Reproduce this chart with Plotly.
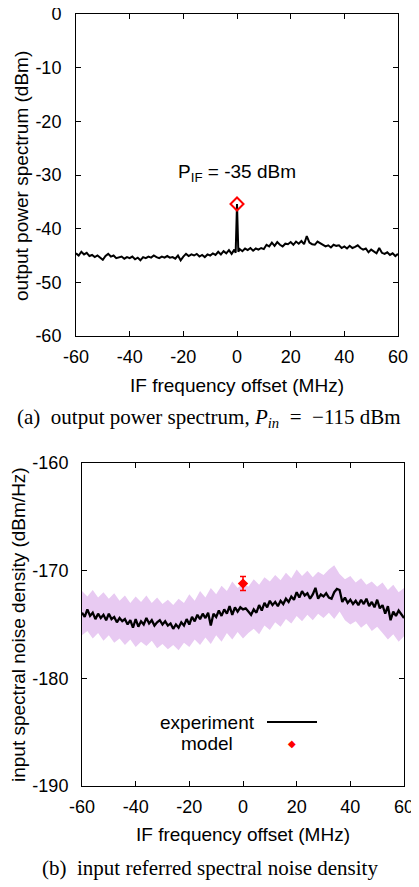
import plotly.graph_objects as go

# browser page has an 8px body margin; the figure is sized and positioned to compensate
PAGE_W, PAGE_H, OFF = 419, 887, 8
W, H = PAGE_W - OFF, PAGE_H - OFF

# ---------------- data: (a) output power spectrum ----------------
freq_a = [-60, -59, -58, -57, -56, -55, -54, -53, -52, -51, -50, -49, -48, -47, -46, -45,
          -44, -43, -42, -41, -40, -39, -38, -37, -36, -35, -34, -33, -32, -31, -30, -29,
          -28, -27, -26, -25, -24, -23, -22, -21, -20, -19, -18, -17, -16, -15, -14, -13,
          -12, -11, -10, -9, -8, -7, -6, -5, -4, -3, -2, -1, -0.5, 0, 0.5, 1, 2, 3, 4, 5,
          6, 7, 8, 9, 10, 11, 12, 13, 14, 15, 16, 17, 18, 19, 20, 21, 22, 23, 24, 25, 26,
          27, 28, 29, 30, 31, 32, 33, 34, 35, 36, 37, 38, 39, 40, 41, 42, 43, 44, 45, 46,
          47, 48, 49, 50, 51, 52, 53, 54, 55, 56, 57, 58, 59, 60]
power_a = [-44.6, -45.0, -44.3, -44.8, -44.5, -45.1, -44.9, -45.3, -45.0, -45.4, -45.8, -45.1,
           -44.7, -45.2, -45.0, -45.5, -45.3, -45.2, -45.6, -45.3, -45.5, -45.2, -45.7, -45.4,
           -45.9, -45.3, -45.5, -45.2, -45.4, -45.0, -45.3, -45.5, -45.2, -45.4, -45.1, -45.4,
           -45.3, -45.6, -45.0, -45.9, -45.2, -44.7, -45.1, -44.8, -45.0, -44.7, -45.2, -44.9,
           -45.3, -44.8, -45.0, -44.6, -44.9, -44.3, -44.8, -44.2, -44.6, -44.0, -44.7, -43.9,
           -44.5, -35.4, -44.3, -43.8, -44.2, -43.7, -44.0, -43.6, -44.1, -43.7, -43.9, -43.6,
           -43.8, -43.0, -43.3, -42.6, -43.2, -42.5, -43.0, -43.3, -42.8, -42.9, -42.5, -43.0,
           -42.4, -42.8, -42.3, -42.9, -41.4, -42.6, -42.9, -43.0, -42.4, -42.7, -42.9, -43.3,
           -43.1, -43.5, -43.0, -43.2, -43.1, -43.6, -43.3, -43.7, -43.2, -43.6, -43.4, -43.1,
           -43.6, -43.9, -43.7, -44.4, -43.9, -44.3, -44.6, -43.6, -44.5, -44.7, -44.4, -44.9,
           -44.6, -45.1, -44.7]
peak_freq = [0]
peak_power = [-35.4]

# ---------------- data: (b) input referred noise density ----------------
freq_b = list(range(-60, 61))
noise_b = [-173.9, -174.3, -173.6, -174.2, -173.9, -174.5, -174.0, -174.4, -174.1, -174.6,
           -174.0, -174.5, -174.3, -174.8, -174.4, -174.7, -174.5, -175.0, -174.6, -175.3,
           -174.5, -175.2, -174.7, -175.0, -174.4, -174.9, -174.6, -175.1, -174.8, -174.6,
           -175.0, -174.7, -175.1, -174.9, -175.4, -175.0, -175.3, -174.8, -175.1, -174.5,
           -175.0, -174.3, -174.7, -174.1, -174.5, -174.0, -174.4, -173.9, -175.1, -174.0,
           -174.3, -173.7, -174.2, -173.6, -174.0, -173.3, -174.1, -173.4, -173.8, -173.4,
           -173.6, -173.5, -173.8, -174.1, -173.6, -173.9, -173.2, -173.7, -173.0, -173.4,
           -172.8, -173.2, -172.9, -173.3, -172.8, -173.1, -172.6, -172.9, -172.4, -172.7,
           -172.0, -172.5, -171.9, -172.3, -172.1, -172.6, -172.2, -171.6, -172.6, -172.2,
           -172.4, -172.1, -172.5, -172.6, -172.0, -171.7, -171.8, -172.9, -172.5, -173.0,
           -172.7, -173.1, -172.8, -173.2, -172.7, -173.1, -172.6, -173.3, -172.9, -173.4,
           -172.7, -173.5, -173.2, -174.0, -173.3, -174.6, -173.8, -174.2, -173.7, -174.1,
           -174.4]
band_freq = list(range(-60, 61, 2))
band_upper = [-171.9, -172.4, -171.8, -172.5, -172.0, -172.6, -172.1, -172.8, -172.3, -173.0,
              -172.4, -172.9, -172.3, -173.0, -172.5, -173.1, -172.7, -173.2, -172.6, -173.0,
              -172.2, -172.8, -171.9, -172.5, -171.6, -172.2, -171.4, -171.9, -171.0, -171.6,
              -171.2, -171.5, -170.8, -171.3, -170.6, -171.0, -170.4, -170.9, -170.2, -170.7,
              -169.9, -170.5, -170.0, -170.6, -170.1, -170.4, -169.9, -169.5, -170.3, -170.8,
              -170.5, -171.1, -170.7, -171.3, -171.0, -171.5, -171.1, -171.8, -171.3, -172.0,
              -171.6]
band_lower = [-176.0, -175.6, -176.3, -175.8, -176.5, -176.0, -176.7, -176.3, -176.9, -176.4,
              -177.1, -176.6, -177.0, -176.5, -177.2, -176.8, -177.3, -176.9, -177.4, -176.7,
              -177.1, -176.4, -176.9, -176.2, -176.8, -176.0, -176.6, -175.8, -176.4, -175.7,
              -176.3, -175.8, -175.4, -175.9, -175.1, -175.5, -174.8, -175.2, -174.5, -174.9,
              -174.2, -174.7, -174.1, -174.6, -174.0, -174.4, -173.9, -174.5, -173.8, -174.6,
              -175.0, -174.7, -175.3, -174.9, -175.6, -175.2, -175.8, -176.4, -175.9, -176.6,
              -176.1]
model_freq = [0]
model_noise = [-171.2]
model_err = [0.65]

ticks_x = [-60, -40, -20, 0, 20, 40, 60]
ticks_ya = [0, -10, -20, -30, -40, -50, -60]
ticks_yb = [-160, -170, -180, -190]

SANS = "Liberation Sans, Arial, sans-serif"
SERIF = "Liberation Serif, Times New Roman, serif"
FT = 18   # tick font
FL = 19   # label font

fig = go.Figure()

# (a)
fig.add_trace(go.Scatter(x=freq_a, y=power_a, mode="lines",
                         line=dict(color="black", width=2), xaxis="x", yaxis="y",
                         showlegend=False))
fig.add_trace(go.Scatter(x=peak_freq, y=peak_power, mode="markers",
                         marker=dict(symbol="diamond-open", size=10, color="red",
                                     line=dict(color="red", width=2)),
                         xaxis="x", yaxis="y", showlegend=False))

# (b)
fig.add_trace(go.Scatter(x=band_freq, y=band_upper, mode="lines", line=dict(width=0),
                         xaxis="x2", yaxis="y2", showlegend=False, hoverinfo="skip"))
fig.add_trace(go.Scatter(x=band_freq, y=band_lower, mode="lines", line=dict(width=0),
                         fill="tonexty", fillcolor="#e8caf2",
                         xaxis="x2", yaxis="y2", showlegend=False, hoverinfo="skip"))
fig.add_trace(go.Scatter(x=freq_b, y=noise_b, mode="lines",
                         line=dict(color="black", width=2.3), xaxis="x2", yaxis="y2",
                         showlegend=False))
fig.add_trace(go.Scatter(x=model_freq, y=model_noise, mode="markers",
                         marker=dict(symbol="diamond", size=8, color="red"),
                         error_y=dict(type="data", array=model_err, color="red",
                                      thickness=1.5, width=3),
                         xaxis="x2", yaxis="y2", showlegend=False))

def px(x):
    return (x - OFF) / W

def py(y):
    return 1 - (y - OFF) / H

axis_common = dict(showline=True, linecolor="black", linewidth=1, mirror="allticks",
                   ticks="inside", ticklen=5, tickcolor="black", showgrid=False,
                   zeroline=False, automargin=False, ticklabeloverflow="allow",
                   tickfont=dict(family=SANS, size=FT, color="black"))

def lab(v):
    return [str(t) for t in v]

fig.update_layout(
    width=W, height=H, margin=dict(l=0, r=0, t=0, b=0),
    paper_bgcolor="white", plot_bgcolor="white", showlegend=False,
    xaxis=dict(domain=[px(76), px(398)], range=[-60, 60], tickvals=ticks_x,
               ticktext=lab(ticks_x), ticklabelstandoff=4, anchor="y", **axis_common),
    yaxis=dict(domain=[py(336), py(14)], range=[-60, 0], tickvals=ticks_ya,
               ticktext=lab(ticks_ya), ticklabelstandoff=10, anchor="x", **axis_common),
    xaxis2=dict(domain=[px(82), px(404)], range=[-60, 60], tickvals=ticks_x,
                ticktext=lab(ticks_x), ticklabelstandoff=4, anchor="y2", **axis_common),
    yaxis2=dict(domain=[py(786), py(463)], range=[-190, -160], tickvals=ticks_yb,
                ticktext=lab(ticks_yb), ticklabelstandoff=9, anchor="x2", **axis_common),
)

def note(x, y, text, size=FL, family=SANS, color="black", angle=0, ref="paper"):
    d = dict(x=x, y=y, showarrow=False, text=text, textangle=angle,
             xanchor="center", yanchor="middle",
             font=dict(family=family, size=size, color=color))
    if ref == "paper":
        d.update(x=px(x), y=py(y), xref="paper", yref="paper")
    else:
        d.update(xref="x", yref="y")
    return d

ann = [
    note(237, 385, "IF frequency offset (MHz)"),
    note(22, 176, "output power spectrum (dBm)", angle=-90),
    note(243, 834, "IF frequency offset (MHz)"),
    note(18, 625, "input spectral noise density (dBm/Hz)", angle=-90),
    note(0, -29.6, "P<sub>IF</sub> = -35 dBm", ref="data"),
    note(207, 722, "experiment"),
    note(207, 743, "model"),
    note(292, 743, "◆", size=10, family="DejaVu Sans", color="red"),
    note(209, 418, "(a)  output power spectrum, <i>P<sub>in</sub></i>  =  −115 dBm",
         size=21, family=SERIF),
    note(210, 868, "(b)  input referred spectral noise density", size=21, family=SERIF),
]

fig.update_layout(annotations=ann,
                  shapes=[dict(type="line", xref="paper", yref="paper",
                               x0=px(267), x1=px(317), y0=py(722), y1=py(722),
                               line=dict(color="black", width=2))])

fig.write_html("out.html")
